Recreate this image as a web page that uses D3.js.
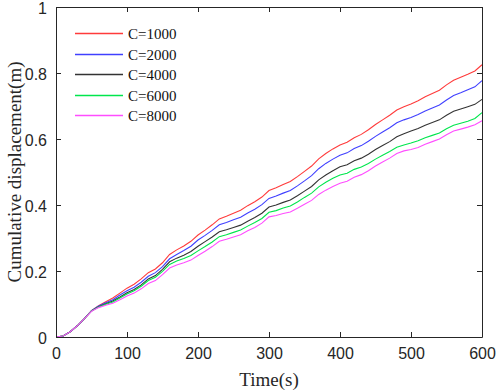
<!DOCTYPE html>
<html>
<head>
<meta charset="utf-8">
<script src="https://cdn.jsdelivr.net/npm/d3@7"></script>
<style>
  body { margin: 0; background: #fff; }
  svg { display: block; }
</style>
</head>
<body>
<svg id="chart"></svg>
<script>
// Time axis (s), one sample every 10 s
const times = d3.range(0, 601, 10);

// Cumulative displacement (m)
const c1000 = [0.000, 0.003, 0.016, 0.034, 0.056, 0.080, 0.095, 0.107, 0.118, 0.133,
  0.148, 0.160, 0.176, 0.195, 0.206, 0.225, 0.250, 0.264, 0.276, 0.290,
  0.309, 0.324, 0.340, 0.358, 0.366, 0.375, 0.384, 0.398, 0.410, 0.424,
  0.444, 0.452, 0.462, 0.471, 0.486, 0.502, 0.518, 0.540, 0.556, 0.570,
  0.582, 0.590, 0.604, 0.614, 0.628, 0.644, 0.658, 0.672, 0.688, 0.698,
  0.706, 0.716, 0.728, 0.738, 0.748, 0.764, 0.778, 0.787, 0.796, 0.806, 0.825];
const c2000 = [0.000, 0.003, 0.016, 0.034, 0.056, 0.080, 0.094, 0.104, 0.113, 0.127,
  0.140, 0.151, 0.166, 0.184, 0.195, 0.213, 0.237, 0.250, 0.262, 0.275,
  0.294, 0.308, 0.323, 0.340, 0.347, 0.355, 0.363, 0.376, 0.387, 0.401,
  0.420, 0.427, 0.436, 0.444, 0.458, 0.473, 0.489, 0.510, 0.526, 0.539,
  0.551, 0.558, 0.571, 0.580, 0.593, 0.608, 0.621, 0.634, 0.649, 0.658,
  0.665, 0.674, 0.685, 0.694, 0.703, 0.718, 0.732, 0.740, 0.749, 0.758, 0.777];
const c4000 = [0.000, 0.003, 0.016, 0.034, 0.056, 0.079, 0.092, 0.101, 0.109, 0.121,
  0.134, 0.144, 0.158, 0.176, 0.186, 0.205, 0.228, 0.239, 0.248, 0.259,
  0.275, 0.289, 0.303, 0.319, 0.325, 0.332, 0.339, 0.351, 0.362, 0.375,
  0.394, 0.400, 0.408, 0.415, 0.428, 0.442, 0.456, 0.476, 0.491, 0.504,
  0.516, 0.522, 0.534, 0.542, 0.554, 0.568, 0.580, 0.592, 0.607, 0.616,
  0.624, 0.632, 0.642, 0.650, 0.658, 0.672, 0.684, 0.691, 0.698, 0.705, 0.720];
const c6000 = [0.000, 0.003, 0.016, 0.034, 0.056, 0.079, 0.091, 0.099, 0.106, 0.118,
  0.130, 0.140, 0.154, 0.171, 0.181, 0.199, 0.220, 0.230, 0.238, 0.247,
  0.261, 0.274, 0.288, 0.304, 0.310, 0.317, 0.324, 0.336, 0.347, 0.359,
  0.378, 0.383, 0.391, 0.397, 0.409, 0.423, 0.436, 0.455, 0.469, 0.481,
  0.491, 0.496, 0.508, 0.515, 0.526, 0.539, 0.551, 0.562, 0.575, 0.582,
  0.588, 0.595, 0.604, 0.611, 0.618, 0.631, 0.642, 0.648, 0.654, 0.662, 0.680];
const c8000 = [0.000, 0.003, 0.016, 0.034, 0.056, 0.078, 0.089, 0.096, 0.102, 0.113,
  0.124, 0.133, 0.146, 0.162, 0.171, 0.189, 0.209, 0.218, 0.225, 0.233,
  0.247, 0.260, 0.274, 0.290, 0.296, 0.303, 0.310, 0.322, 0.332, 0.345,
  0.364, 0.368, 0.374, 0.379, 0.390, 0.402, 0.414, 0.432, 0.445, 0.456,
  0.466, 0.472, 0.484, 0.492, 0.504, 0.518, 0.530, 0.542, 0.556, 0.564,
  0.568, 0.574, 0.584, 0.592, 0.600, 0.613, 0.624, 0.630, 0.636, 0.643, 0.655];

const seriesNames = ["C=1000", "C=2000", "C=4000", "C=6000", "C=8000"];
const seriesValues = [c1000, c2000, c4000, c6000, c8000];
const seriesColors = ["#ff3b3b", "#4040ff", "#333333", "#00e64d", "#ff4dff"];

const xTicks = [0, 100, 200, 300, 400, 500, 600];
const yTicks = [0, 0.2, 0.4, 0.6, 0.8, 1];

// Layout
const W = 498, H = 392;
const margin = { top: 7, right: 16, bottom: 55, left: 56 };
const width = W - margin.left - margin.right;
const height = H - margin.top - margin.bottom;

const svg = d3.select("#chart").attr("width", W).attr("height", H);
const g = svg.append("g").attr("transform", `translate(${margin.left},${margin.top})`);

const x = d3.scaleLinear().domain([0, 600]).range([0, width]);
const y = d3.scaleLinear().domain([0, 1]).range([height, 0]);

const axisColor = "#262626";
const tickFont = "Liberation Sans, Arial, sans-serif";
const serif = "Liberation Serif, Times New Roman, serif";

// Data lines
const line = d3.line().x((d, i) => x(times[i])).y(d => y(d));
seriesValues.forEach((vals, k) => {
  g.append("path")
    .datum(vals)
    .attr("fill", "none")
    .attr("stroke", seriesColors[k])
    .attr("stroke-width", 1.1)
    .attr("d", line);
});

// Axes with inward ticks (box style)
function styleAxis(sel) {
  sel.selectAll("path").attr("stroke", axisColor);
  sel.selectAll("line").attr("stroke", axisColor);
  sel.selectAll("text").attr("fill", axisColor)
    .style("font-family", tickFont).style("font-size", "16px");
}

g.append("g").attr("transform", `translate(0,${height})`)
  .call(d3.axisBottom(x).tickValues(xTicks).tickSizeInner(-5).tickSizeOuter(0).tickPadding(11))
  .call(styleAxis);
g.append("g")
  .call(d3.axisLeft(y).tickValues(yTicks).tickFormat(d3.format("~g")).tickSizeInner(-5).tickSizeOuter(0).tickPadding(9))
  .call(styleAxis)
  .selectAll("text").attr("dy", "0.38em");
g.append("g")
  .call(d3.axisTop(x).tickValues(xTicks).tickFormat("").tickSizeInner(-5).tickSizeOuter(0))
  .call(styleAxis);
g.append("g").attr("transform", `translate(${width},0)`)
  .call(d3.axisRight(y).tickValues(yTicks).tickFormat("").tickSizeInner(-5).tickSizeOuter(0))
  .call(styleAxis);

// Axis titles
svg.append("text")
  .attr("x", margin.left + width / 2).attr("y", H - 6)
  .attr("text-anchor", "middle")
  .style("font-family", serif).style("font-size", "19px").attr("fill", axisColor)
  .text("Time(s)");

svg.append("text")
  .attr("transform", `translate(21,${margin.top + height / 2}) rotate(-90)`)
  .attr("text-anchor", "middle")
  .style("font-family", serif).style("font-size", "19px").attr("fill", axisColor)
  .text("Cumulative displacement(m)");

// Legend
const legend = g.append("g").attr("transform", "translate(19,26)");
seriesNames.forEach((name, k) => {
  const row = legend.append("g").attr("transform", `translate(0,${Math.round(k * 20.5) + 0.5})`);
  row.append("line").attr("x1", 0).attr("x2", 48)
    .attr("stroke", seriesColors[k]).attr("stroke-width", 1.3);
  row.append("text").attr("x", 53).attr("dy", "0.35em")
    .style("font-family", serif).style("font-size", "15px").attr("fill", "#111")
    .text(name);
});
</script>
</body>
</html>
